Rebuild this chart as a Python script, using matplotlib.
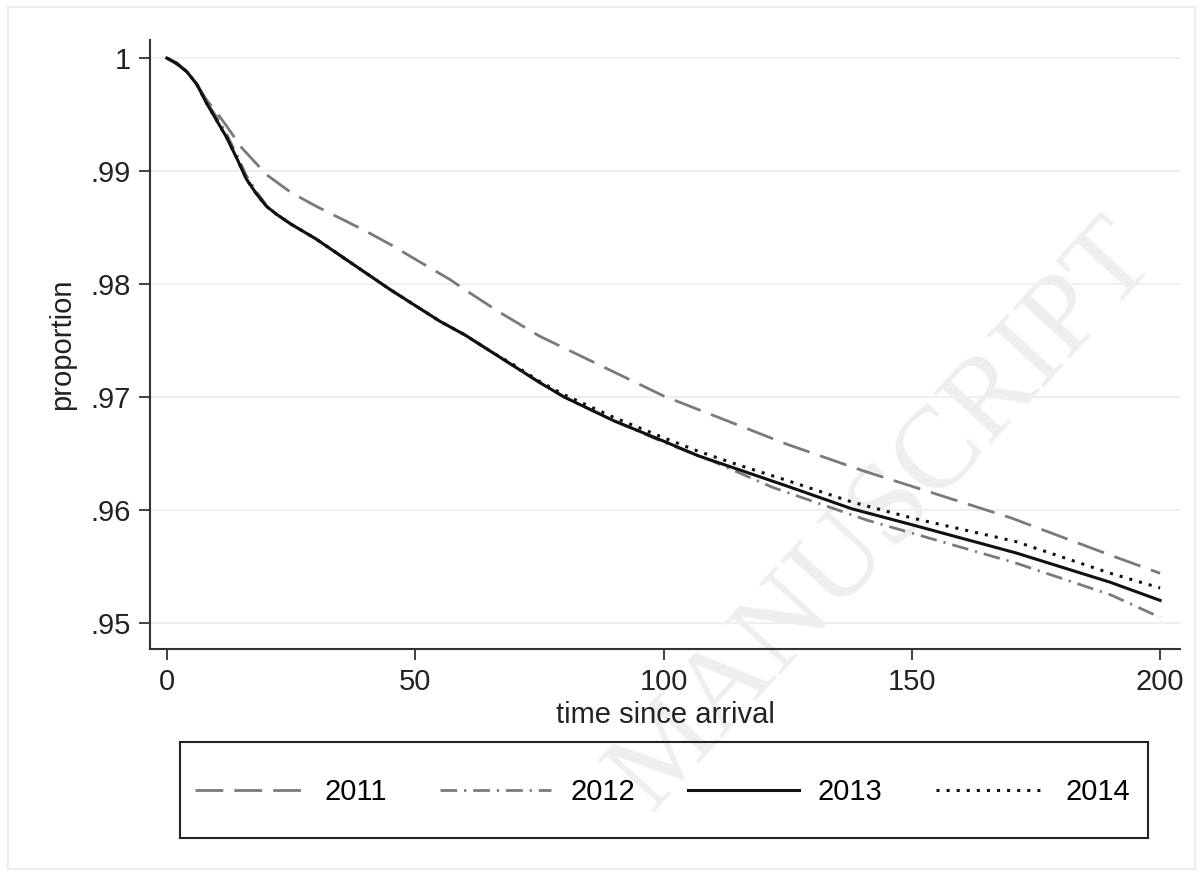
import matplotlib
matplotlib.use("Agg")
import matplotlib.pyplot as plt
from matplotlib.patches import Rectangle

plt.rcParams['font.family'] = ['Liberation Sans', 'DejaVu Sans']

# survival proportions
t_2011 = [0, 2, 4, 6, 8, 10, 12, 15, 20, 25, 30, 35, 40, 45, 50, 57, 60, 67, 75, 100, 125, 140, 150, 170, 190, 200]
p_2011 = [1.0, 0.9996, 0.9988, 0.9977, 0.9963, 0.9952, 0.9940, 0.9921, 0.9897, 0.9881, 0.9869, 0.9858,
          0.9847, 0.9835, 0.9822, 0.9804, 0.9795, 0.9775, 0.9754, 0.9701, 0.9658, 0.9635, 0.9621, 0.9593,
          0.9560, 0.9544]

t_2012 = [0, 2, 4, 6, 8, 10, 12, 14, 16, 18, 20, 22, 25, 30, 35, 40, 45, 50, 55, 60, 65, 70, 75, 80, 90,
          100, 110, 122, 141, 171, 190, 200]
p_2012 = [1.0, 0.9995, 0.9988, 0.9977, 0.9961, 0.9948, 0.9933, 0.9915, 0.9896, 0.9882, 0.9870, 0.9862,
          0.9853, 0.9840, 0.9825, 0.9810, 0.9795, 0.9781, 0.9767, 0.9755, 0.9741, 0.9727, 0.9713, 0.9700,
          0.9679, 0.9660, 0.9643, 0.9620, 0.9591, 0.9553, 0.9525, 0.9505]

t_2013 = [0, 2, 4, 6, 8, 10, 12, 14, 16, 18, 20, 22, 25, 30, 35, 40, 45, 50, 55, 60, 65, 70, 75, 80, 90,
          100, 107, 115, 125, 138, 150, 171, 190, 200]
p_2013 = [1.0, 0.9995, 0.9988, 0.9977, 0.9960, 0.9945, 0.9930, 0.9912, 0.9893, 0.9880, 0.9869, 0.9862,
          0.9853, 0.9840, 0.9825, 0.9810, 0.9795, 0.9781, 0.9767, 0.9755, 0.9741, 0.9727, 0.9713, 0.9700,
          0.9679, 0.9661, 0.9648, 0.9636, 0.9621, 0.9601, 0.9587, 0.9562, 0.9536, 0.9520]

t_2014 = [0, 2, 4, 6, 8, 10, 12, 14, 16, 18, 20, 22, 25, 30, 35, 40, 45, 50, 55, 60, 65, 70, 75, 80, 90,
          100, 107, 115, 125, 138, 150, 171, 190, 200]
p_2014 = [1.0, 0.9995, 0.9988, 0.9977, 0.9960, 0.9945, 0.9930, 0.9912, 0.9893, 0.9880, 0.9869, 0.9862,
          0.9853, 0.9840, 0.9825, 0.9810, 0.9795, 0.9781, 0.9767, 0.9755, 0.9741, 0.9728, 0.9714, 0.9702,
          0.9682, 0.9664, 0.9652, 0.9640, 0.9626, 0.9607, 0.9593, 0.9572, 0.9544, 0.9531]

x_ticks = [0, 50, 100, 150, 200]
y_ticks = [0.95, 0.96, 0.97, 0.98, 0.99, 1.0]
y_labels = ['.95', '.96', '.97', '.98', '.99', '1']

W, H = 1203, 876
fig = plt.figure(figsize=(W / 100, H / 100), dpi=100)
fig.patch.set_facecolor('white')

# faint graph-region frame
fig.patches.append(Rectangle((0.007, 0.008), 0.986, 0.984, transform=fig.transFigure,
                             fill=False, edgecolor='#eeeeee', lw=1.5))

# watermark
fig.text(0.735, 0.41, 'MANUSCRIPT', rotation=47.5, fontsize=84, family='Liberation Serif',
         color='#eeeeee', ha='center', va='center', zorder=-1)

ax = fig.add_axes([150 / W, 1 - 649 / H, 1030 / W, 609 / H])
ax.patch.set_alpha(0)

ax.plot(t_2011, p_2011, color='#7a7a7a', lw=2.0, ls=(0, (10, 4)), label='2011')
ax.plot(t_2012, p_2012, color='#7a7a7a', lw=2.0, ls=(0, (6, 2.5, 0.8, 2.5)), label='2012')
ax.plot(t_2013, p_2013, color='#111111', lw=2.2, label='2013')
ax.plot(t_2014, p_2014, color='#111111', lw=2.2, ls=(0, (1, 2.3)), label='2014')

ax.set_xlim(-3.4, 204)
ax.set_ylim(0.9477, 1.0016)
ax.set_xticks(x_ticks)
ax.set_xticklabels([str(v) for v in x_ticks])
ax.set_yticks(y_ticks)
ax.set_yticklabels(y_labels)
ax.yaxis.grid(True, color='#efefef', lw=1.5)
ax.set_axisbelow(True)

for s in ['top', 'right']:
    ax.spines[s].set_visible(False)
for s in ['left', 'bottom']:
    ax.spines[s].set_color('#333333')
    ax.spines[s].set_linewidth(1.5)

ax.tick_params(axis='both', labelsize=21, length=8, width=1.3, color='#333333',
               labelcolor='#222222', pad=6)
ax.set_xlabel('time since arrival', fontsize=21, color='#222222', labelpad=3)
ax.set_ylabel('proportion', fontsize=21, color='#222222', labelpad=10)

# legend frame drawn separately so the padding can match
fig.patches.append(Rectangle((180 / W, 1 - 838 / H), 968 / W, 96 / H, transform=fig.transFigure,
                             fill=False, edgecolor='#222222', lw=1.5))
fig.legend(loc='center', ncol=4, mode='expand',
           bbox_to_anchor=(195 / W, 1 - 810 / H, 935 / W, 36 / H),
           frameon=False, borderaxespad=0, borderpad=0,
           fontsize=21, handlelength=3.8, handletextpad=0.65)

fig.savefig('out.png', dpi=100, facecolor='white')
